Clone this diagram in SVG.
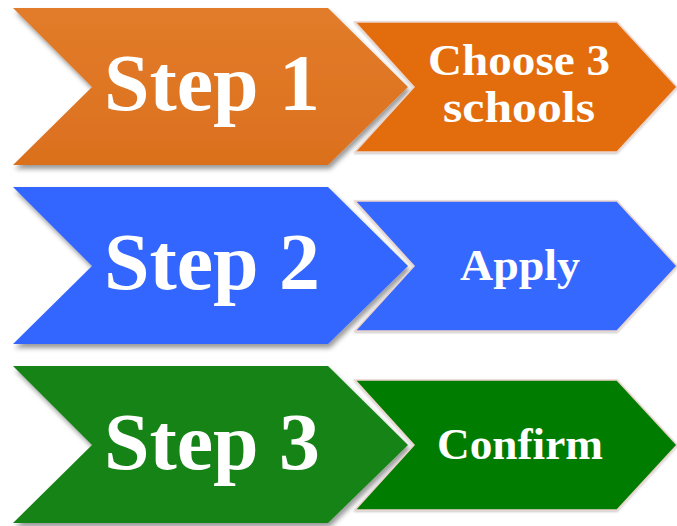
<svg xmlns="http://www.w3.org/2000/svg" width="677" height="526" viewBox="0 0 677 526">
<defs>
<filter id="sh" x="-10%" y="-10%" width="125%" height="130%">
<feDropShadow dx="2" dy="4" stdDeviation="2.5" flood-color="#000" flood-opacity="0.4"/>
</filter>
<filter id="sh2" x="-10%" y="-10%" width="125%" height="130%">
<feDropShadow dx="0" dy="1" stdDeviation="1" flood-color="#000" flood-opacity="0.25"/>
</filter>
<linearGradient id="gOr" x1="0" y1="0" x2="0" y2="1">
<stop offset="0" stop-color="#E27C2A"/><stop offset="1" stop-color="#DB701E"/>
</linearGradient>
<polygon id="big" points="13,8 328,8 408,87 328,165 13,165 92,87"/>
<polygon id="small" points="355,22 617,22 677,87 617,152 355,152 414,87"/>
</defs>
<style>
.stroke2{stroke:#EBD3CB;stroke-width:1.5}
.t{font-family:"Liberation Serif","Times New Roman",serif;font-weight:bold;fill:#FFFFFF;text-anchor:middle}
.big{font-size:80px}
.sm{font-size:44px}
</style>
<rect width="677" height="526" fill="#FFFFFF"/>
<g id="step1">
<use href="#big" fill="url(#gOr)" filter="url(#sh)"/>
<text class="t big" x="212" y="110" textLength="216" lengthAdjust="spacingAndGlyphs">Step 1</text>
</g>
<g id="choose">
<use href="#small" fill="#E36C0A" class="stroke2" filter="url(#sh2)"/>
<text class="t sm" x="519" y="75" textLength="182" lengthAdjust="spacingAndGlyphs">Choose 3</text>
<text class="t sm" x="519" y="122" textLength="152" lengthAdjust="spacingAndGlyphs">schools</text>
</g>
<g id="step2" transform="translate(0,179)">
<use href="#big" fill="#3366FF" filter="url(#sh)"/>
<text class="t big" x="212" y="110" textLength="216" lengthAdjust="spacingAndGlyphs">Step 2</text>
</g>
<g id="apply" transform="translate(0,179)">
<use href="#small" fill="#3668FF" class="stroke2" filter="url(#sh2)"/>
<text class="t sm" x="520" y="101" textLength="120" lengthAdjust="spacingAndGlyphs">Apply</text>
</g>
<g id="step3" transform="translate(0,358)">
<use href="#big" fill="#178317" filter="url(#sh)"/>
<text class="t big" x="212" y="111" textLength="216" lengthAdjust="spacingAndGlyphs">Step 3</text>
</g>
<g id="confirm" transform="translate(0,358)">
<use href="#small" fill="#007D00" class="stroke2" filter="url(#sh2)"/>
<text class="t sm" x="520" y="101" textLength="166" lengthAdjust="spacingAndGlyphs">Confirm</text>
</g>
<g id="connectors"></g>
</svg>
